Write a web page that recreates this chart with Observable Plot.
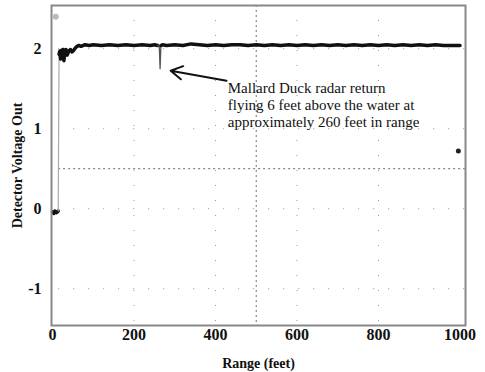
<!DOCTYPE html>
<html><head><meta charset="utf-8">
<script src="https://cdn.jsdelivr.net/npm/d3@7"></script>
<script src="https://cdn.jsdelivr.net/npm/@observablehq/plot@0.6"></script>
<style>
body{margin:0;background:#fff}
svg{font-family:"Liberation Serif","Times New Roman",serif}
</style>
</head><body><div id="chart"></div>
<script>
const rangeFt = [0,3,6,9,12,14,16,18,20,22,24,26,28,30,33,36,40,44,48,52,56,60,65,70,80,90,100,120,140,160,180,200,220,240,250,258,262,264,266,270,280,300,320,340,360,380,400,420,440,460,480,500,520,540,560,580,600,620,640,660,680,700,720,740,760,780,800,820,840,860,880,900,920,940,960,980,1000];
const voltage = [-0.04,-0.06,-0.03,-0.05,-0.04,-0.03,1.93,1.97,1.87,1.98,1.95,1.99,1.85,1.96,1.99,1.92,1.97,1.99,1.96,1.98,2.01,2.03,2.04,2.03,2.05,2.04,2.05,2.04,2.05,2.04,2.05,2.04,2.05,2.04,2.05,2.04,2.03,1.75,2.04,2.05,2.04,2.05,2.04,2.06,2.05,2.04,2.05,2.04,2.05,2.05,2.04,2.05,2.04,2.05,2.04,2.05,2.04,2.05,2.04,2.05,2.04,2.05,2.04,2.05,2.04,2.05,2.04,2.05,2.04,2.05,2.04,2.05,2.04,2.05,2.04,2.04,2.04];
const xTicks = [0,200,400,600,800,1000];
const yTicks = [-1,0,1,2];
const gridX = [500];
const gridY = [0.5];
const strayRange = [996, 8];
const strayVolt = [0.72, 2.4];
const noteLines = ["Mallard Duck radar return","flying 6 feet above the water at","approximately 260 feet in range"];
const arrowTail = [427, 1.6];
const arrowTip = [290, 1.725];
const noteAt = [430, 1.6];

const idx = d3.range(rangeFt.length);
const riseStart = 5, riseEnd = 6, spikeStart = 35, spikeEnd = 38;
const val = {x: i => rangeFt[i], y: i => voltage[i]};

const chart = Plot.plot({
  width: 485, height: 372,
  marginLeft: 51, marginRight: 20, marginTop: 5, marginBottom: 47,
  style: {fontFamily: "'Liberation Serif', serif", background: "#fff"},
  x: {domain: [-2.5, 1013.5], ticks: xTicks, tickFormat: d => String(d), tickSize: 0, tickPadding: 3, label: "Range (feet)", labelAnchor: "center", labelArrow: "none", labelOffset: 42},
  y: {domain: [-1.46, 2.54], ticks: yTicks, tickFormat: d => String(d), tickSize: 0, tickPadding: 10, label: "Detector Voltage Out", labelAnchor: "center", labelArrow: "none", labelOffset: 39},
  marks: [
    Plot.ruleX(xTicks.filter(d => d > 0 && d < 1000), {stroke: "#999", strokeDasharray: "1,14", strokeWidth: 1}),
    Plot.ruleY(yTicks, {x1: 15, x2: 1013, stroke: "#999", strokeDasharray: "1,14", strokeWidth: 1}),
    Plot.ruleX(gridX, {stroke: "#888", strokeDasharray: "2,3", strokeWidth: 1.2}),
    Plot.ruleY(gridY, {x1: 15, x2: 1013, stroke: "#888", strokeDasharray: "2,3", strokeWidth: 1.2}),
    Plot.line(idx.filter(i => i <= riseStart), {...val, stroke: "#111", strokeWidth: 3.5}),
    Plot.line(idx.filter(i => i >= riseStart && i <= riseEnd), {...val, stroke: "#aaa", strokeWidth: 1.2}),
    Plot.line(idx.filter(i => i >= riseEnd && i <= spikeStart), {...val, stroke: "#111", strokeWidth: 3.5}),
    Plot.line(idx.filter(i => i >= spikeStart && i <= spikeEnd), {...val, stroke: "#555", strokeWidth: 1.3}),
    Plot.line(idx.filter(i => i >= spikeEnd), {...val, stroke: "#111", strokeWidth: 3.5}),
    Plot.dot([0], {x: strayRange[0], y: strayVolt[0], r: 2.5, fill: "#222"}),
    Plot.dot([0], {x: strayRange[1], y: strayVolt[1], r: 3, fill: "#bbb"}),
    Plot.arrow([0], {x1: arrowTail[0], y1: arrowTail[1], x2: arrowTip[0], y2: arrowTip[1], stroke: "#111", strokeWidth: 2, headLength: 10, bend: 0}),
    Plot.text([noteLines.join("\n")], {x: noteAt[0], y: noteAt[1], text: d => d, textAnchor: "start", lineAnchor: "top", fontSize: 15, lineHeight: 1.13, fill: "#111"}),
    Plot.frame({stroke: "#888", strokeWidth: 2})
  ]
});
chart.querySelectorAll("g[aria-label='x-axis tick label'], g[aria-label='y-axis tick label']").forEach(g => {g.setAttribute("font-size", 16); g.setAttribute("font-weight", "bold"); g.setAttribute("fill", "#111");});
chart.querySelectorAll("g[aria-label='x-axis label'], g[aria-label='y-axis label']").forEach(g => {g.setAttribute("font-size", 14); g.setAttribute("font-weight", "bold"); g.setAttribute("fill", "#111");});
document.getElementById("chart").append(chart);
</script>
</body></html>
